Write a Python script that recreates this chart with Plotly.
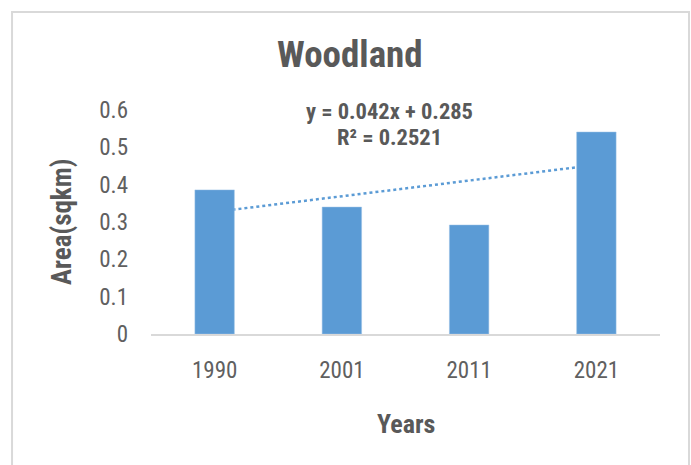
import plotly.graph_objects as go

years = ["1990", "2001", "2011", "2021"]
area = [0.386, 0.340, 0.292, 0.541]
slope = 0.042
intercept = 0.285
r2 = 0.2521
y_ticks = [0, 0.1, 0.2, 0.3, 0.4, 0.5, 0.6]
y_tick_labels = ["0", "0.1", "0.2", "0.3", "0.4", "0.5", "0.6"]

FONT = "Liberation Sans Narrow, Roboto Condensed, Arial Narrow, Liberation Sans, sans-serif"
GREY = "#595959"

xs = list(range(1, len(years) + 1))
trend_y = [slope * x + intercept for x in xs]

fig = go.Figure()
# trendline on base axes (drawn beneath bars)
fig.add_trace(go.Scatter(x=xs, y=trend_y, mode="lines",
                         line=dict(color="#5b9bd5", width=2.5, dash="dot"),
                         xaxis="x", yaxis="y", showlegend=False, hoverinfo="skip"))
fig.add_trace(go.Bar(x=xs, y=area, marker=dict(color="#5b9bd5", line=dict(color="#9dc3e6", width=0.5)),
                     width=0.31, xaxis="x2", yaxis="y2", showlegend=False))

xr = [0.5, 4.5]
yr = [0, 0.6]
fig.update_layout(
    width=691, height=465,
    margin=dict(l=151, r=31, t=110, b=131),
    paper_bgcolor="white", plot_bgcolor="white",
    font=dict(family=FONT, color=GREY),
    xaxis=dict(range=xr, tickvals=xs, ticktext=years, showgrid=False, zeroline=False,
               showline=True, linecolor="#d9d9d9", linewidth=1.5,
               tickfont=dict(size=23, color="#606060"), ticks="", ticklabelstandoff=15),
    yaxis=dict(range=yr, tickvals=y_ticks, ticktext=y_tick_labels,
               showgrid=False, zeroline=False, showline=False,
               tickfont=dict(size=23, color="#606060"), ticklabelstandoff=22),
    xaxis2=dict(range=xr, overlaying="x", visible=False),
    yaxis2=dict(range=yr, overlaying="y", visible=False),
    shapes=[dict(type="rect", xref="paper", yref="paper",
                 x0=-0.273, x1=1.057, y0=-0.75, y1=1.4375,
                 line=dict(color="#d9d9d9", width=2), fillcolor="rgba(0,0,0,0)", layer="below")],
    annotations=[
        dict(text="<b>Woodland</b>", xref="paper", yref="paper", x=0.39, y=1, yshift=56,
             xanchor="center", yanchor="middle", showarrow=False,
             font=dict(size=37, color=GREY, family=FONT)),
        dict(text=f"<b>y = {slope}x + {intercept}</b>", xref="x", yref="y", x=2.378, y=0.597,
             showarrow=False, font=dict(size=22.5, color=GREY, family=FONT)),
        dict(text=f"<b>R² = {r2}</b>", xref="x", yref="y", x=2.378, y=0.528,
             showarrow=False, font=dict(size=22.5, color=GREY, family=FONT)),
        dict(text="<b>Area(sqkm)</b>", xref="paper", yref="paper", x=0, y=0.5, xshift=-89,
             textangle=-90, showarrow=False, xanchor="center", yanchor="middle",
             font=dict(size=27, color=GREY, family=FONT)),
        dict(text="<b>Years</b>", xref="paper", yref="paper", x=0.5, y=0, yshift=-90,
             showarrow=False, xanchor="center", yanchor="middle",
             font=dict(size=26, color=GREY, family=FONT)),
    ],
)

fig.write_html("out.html", config={"displayModeBar": False},
               post_script="document.body.style.margin='0';")
